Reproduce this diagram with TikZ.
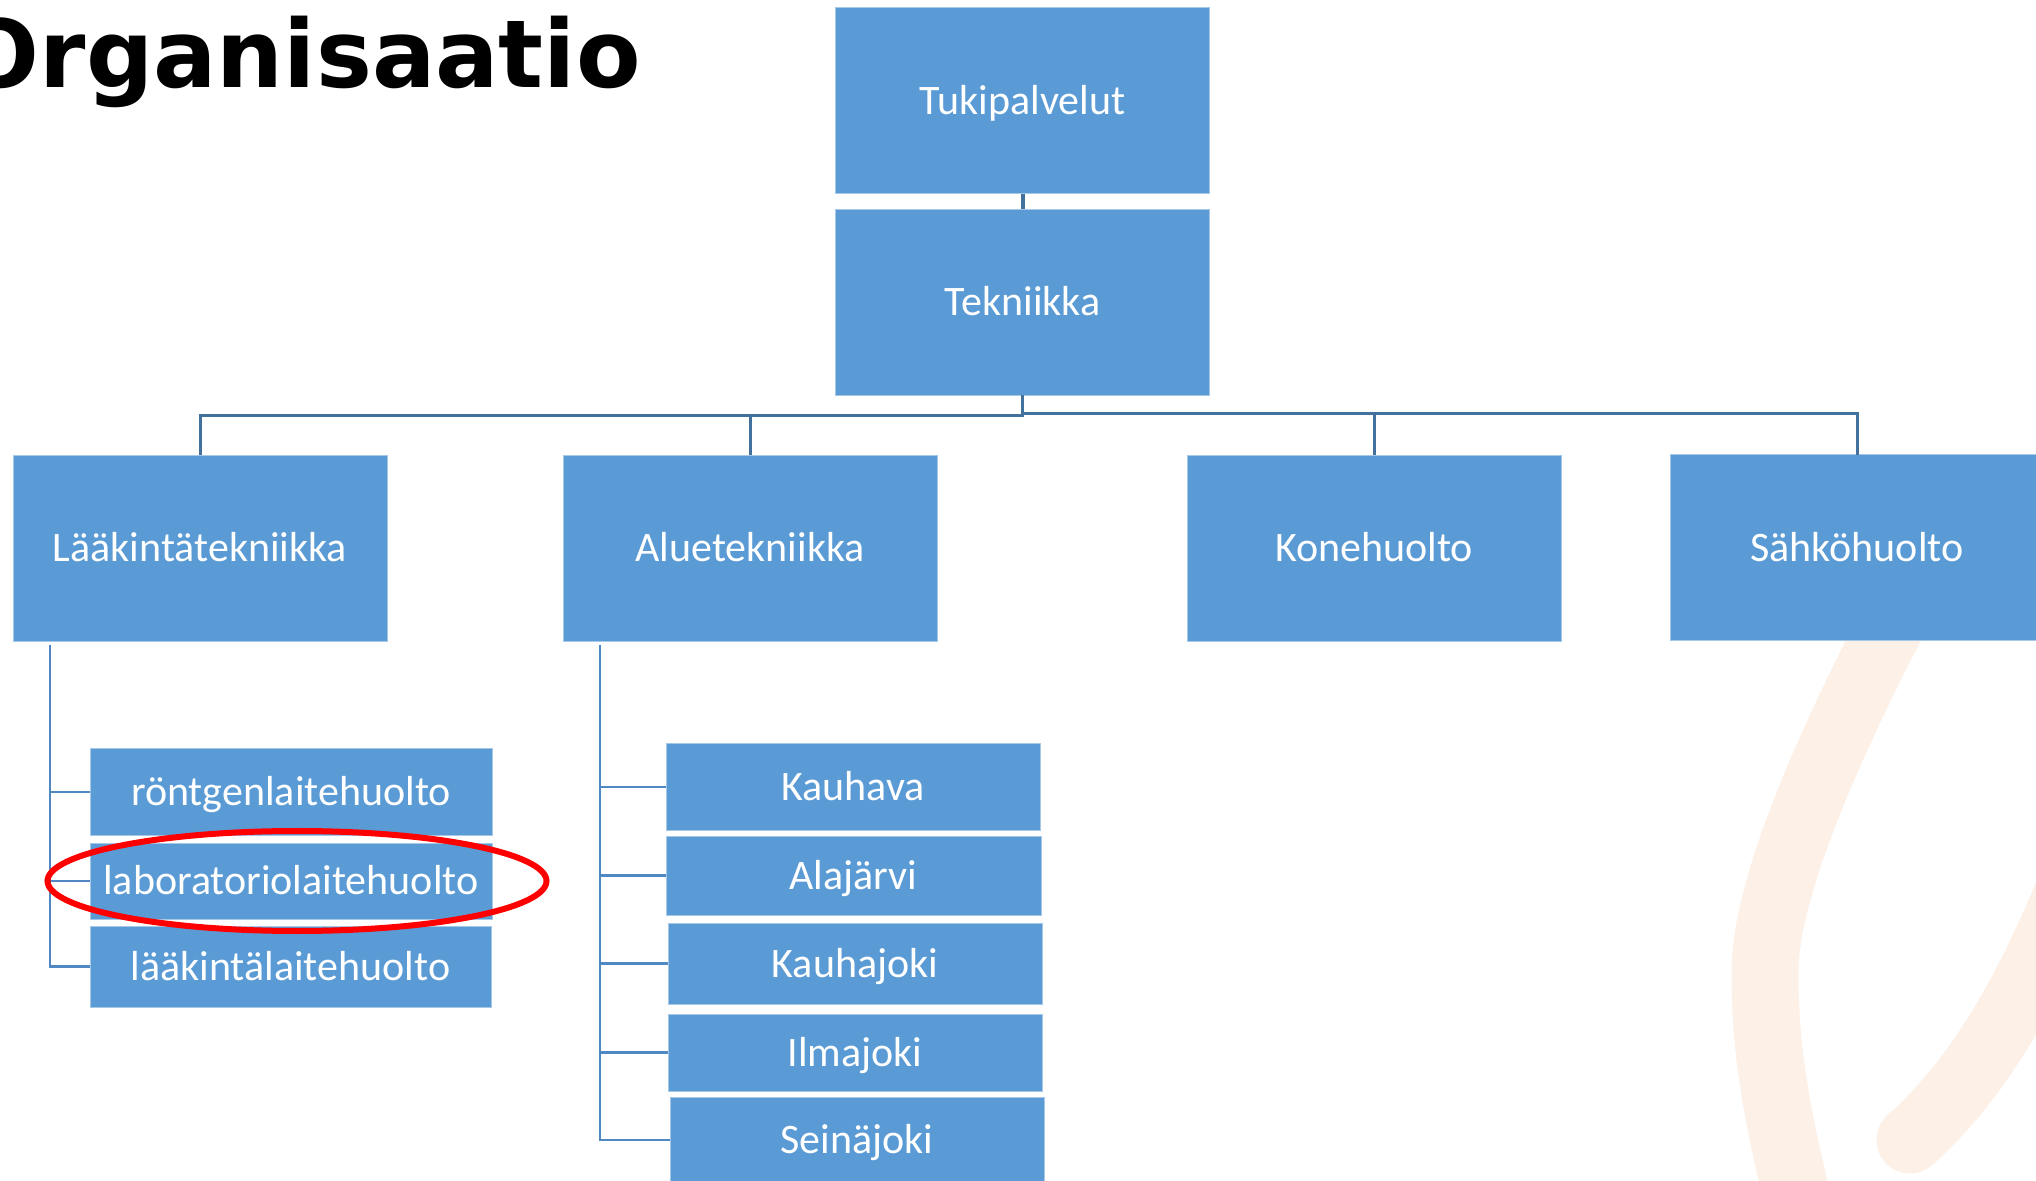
\documentclass[tikz,border=0pt]{standalone}
\usepackage{fontspec}
\setmainfont{Carlito}
\newfontfamily\titlefont{DejaVu Sans}
\usetikzlibrary{shapes.geometric}
\definecolor{boxblue}{RGB}{91,155,213}
\definecolor{toplink}{RGB}{65,113,156}
\definecolor{sublink}{RGB}{80,136,196}
\definecolor{peach}{RGB}{253,240,231}
\tikzset{
  orgbox/.style={rectangle, fill=boxblue, draw=boxblue!55!white, line width=0.5pt,
    text=white, font=\fontsize{21}{25}\selectfont, inner sep=0pt, outer sep=0pt,
    text height=13.5pt, text depth=0pt},
  bigbox/.style={orgbox, minimum width=187pt, minimum height=93pt},
  topline/.style={draw=toplink, line width=1.5pt},
  subline/.style={draw=sublink, line width=1.4pt},
  bgstroke/.style={draw=peach, line width=33.5pt},
}
\begin{document}
\begin{tikzpicture}[x=0.5pt, y=-0.5pt]
\useasboundingbox (0,0) rectangle (2036,1181);

% background logo arcs
\draw[bgstroke] (1918,575) .. controls (1850,700) and (1763,880) .. (1765,975)
  .. controls (1765,1060) and (1780,1130) .. (1805,1230);
\draw[bgstroke, line cap=round] (1910,1140) .. controls (1960,1095) and (2010,1030) .. (2065,900);

% title
\node[anchor=base east, inner sep=0pt, font=\titlefont\bfseries\fontsize{47}{50}\selectfont] (title) at (641,88) {Organisaatio};

% top levels
\node[bigbox] (tuki) at (1022.5,101) {Tukipalvelut};
\node[bigbox] (tek) at (1022.5,302.5) {Tekniikka};
\node[bigbox] (lk) at (200,548.5) {Lääkintätekniikka};
\node[bigbox] (al) at (750,548.5) {Aluetekniikka};
\node[bigbox] (ko) at (1374,548.5) {Konehuolto};
\node[bigbox] (sa) at (1857,548) {Sähköhuolto};

% sub level boxes
\node[orgbox, minimum width=201pt, minimum height=43pt] (r1) at (291,792) {röntgenlaitehuolto};
\node[orgbox, minimum width=201pt, minimum height=38pt] (r2) at (291,881) {laboratoriolaitehuolto};
\node[orgbox, minimum width=200.5pt, minimum height=40.5pt] (r3) at (290.5,966.5) {lääkintälaitehuolto};

\node[orgbox, minimum width=187pt, minimum height=43pt] (a1) at (853,787) {Kauhava};
\node[orgbox, minimum width=187.5pt, minimum height=39.5pt] (a2) at (853.5,875.5) {Alajärvi};
\node[orgbox, minimum width=187pt, minimum height=40.5pt] (a3) at (855,963.5) {Kauhajoki};
\node[orgbox, minimum width=187pt, minimum height=38.5pt] (a4) at (855,1052.5) {Ilmajoki};
\node[orgbox, minimum width=187pt, minimum height=43pt] (a5) at (857,1140) {Seinäjoki};

% connectors
\draw[topline, line width=2pt] (tuki.south) -- (tek.north);
\draw[topline] (tek.south) -- ++(0,20) -| (lk.north);
\draw[topline] (tek.south) -- ++(0,20) -| (al.north);
\draw[topline] (tek.south) -- ++(0,18) -| (ko.north);
\draw[topline] (tek.south) -- ++(0,18) -| (sa.north);

\coordinate (lkb) at (50,645);
\coordinate (alb) at (600,645);
\draw[subline] (lkb) |- (r1.west);
\draw[subline] (lkb) |- (r2.west);
\draw[subline] (lkb) |- (r3.west);
\draw[subline] (alb) |- (a1.west);
\draw[subline] (alb) |- (a2.west);
\draw[subline] (alb) |- (a3.west);
\draw[subline] (alb) |- (a4.west);
\draw[subline] (alb) |- (a5.west);

% highlight
\node[ellipse, draw=red, line width=3pt, inner sep=0pt, minimum width=249.5pt, minimum height=50pt] (hl) at (297,881) {};
\end{tikzpicture}
\end{document}
